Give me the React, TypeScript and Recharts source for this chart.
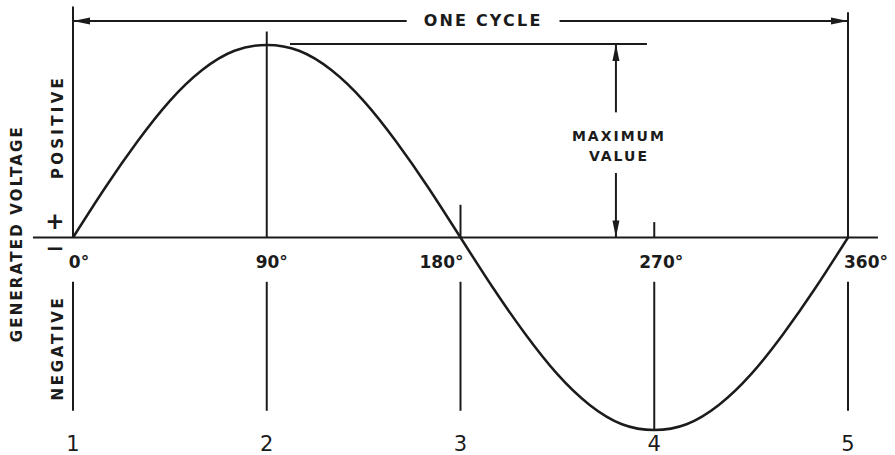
import React from 'react';
import { ComposedChart, Line, XAxis, YAxis, ReferenceLine, ReferenceDot } from 'recharts';

// phase angle in degrees and generated voltage in % of the maximum value
const angles = [0, 15, 30, 45, 60, 75, 90, 105, 120, 135, 150, 165, 180, 195, 210, 225, 240, 255, 270, 285, 300, 315, 330, 345, 360];
const voltage = [0, 26, 50, 71, 87, 97, 100, 97, 87, 71, 50, 26, 0, -26, -50, -71, -87, -97, -100, -97, -87, -71, -50, -26, 0];

const cycleTicks = [0, 90, 180, 270, 360];
const degreeLabels = ['0°', '90°', '180°', '270°', '360°'];
const pointLabels = ['1', '2', '3', '4', '5'];

const data = angles.map((deg, i) => ({ deg, v: voltage[i] }));

const INK = '#1b1b1b';
const FONT = '"DejaVu Sans", sans-serif';

// how far each guide line runs above / below the zero line (in voltage units)
const guideTop = [120, 107, 17, 8, 117];
const guideBottom = [-90, -90, -90, -100, -90];
const degreeDx = [6, 5, -19, 7, 18];

const arrow = (head: 'start' | 'end') => (p: any) => {
  const { x1, y1, x2, y2 } = p;
  const [tx, ty, fx, fy] = head === 'end' ? [x2, y2, x1, y1] : [x1, y1, x2, y2];
  const len = Math.hypot(tx - fx, ty - fy) || 1;
  const ux = (tx - fx) / len;
  const uy = (ty - fy) / len;
  const L = 17;
  const W = 3.5;
  const bx = tx - ux * L;
  const by = ty - uy * L;
  return (
    <g>
      <line x1={x1} y1={y1} x2={x2} y2={y2} stroke={INK} strokeWidth={2} />
      <path d={`M${tx},${ty} L${bx - uy * W},${by + ux * W} L${bx + uy * W},${by - ux * W} Z`} fill={INK} />
    </g>
  );
};

type TxtOpts = { size?: number; weight?: string | number; ls?: number; rotate?: boolean; dx?: number };

const txt = (text: string, o: TxtOpts = {}) => (p: any) => {
  const x = p.cx + (o.dx || 0);
  const y = p.cy;
  return (
    <text
      x={x}
      y={y}
      textAnchor="middle"
      dominantBaseline="central"
      fontFamily={FONT}
      fontSize={o.size || 15}
      fontWeight={o.weight || 'bold'}
      letterSpacing={o.ls || 0}
      fill={INK}
      transform={o.rotate ? `rotate(-90 ${x} ${y})` : undefined}
    >
      {text}
    </text>
  );
};

const seg = (x1: number, y1: number, x2: number, y2: number, key: string, width = 2) => (
  <ReferenceLine
    key={key}
    segment={[{ x: x1, y: y1 }, { x: x2, y: y2 }]}
    stroke={INK}
    strokeWidth={width}
    ifOverflow="visible"
  />
);

const App = () => {
  return (
    <div style={{ position: 'absolute', left: 0, top: 0, width: 895, height: 455, background: '#fff' }}>
      <ComposedChart width={895} height={455} data={data} margin={{ top: 45, right: 47, bottom: 25, left: 73 }}>
        <XAxis type="number" dataKey="deg" domain={[0, 360]} hide />
        <YAxis type="number" domain={[-100, 100]} hide />

        {/* zero line */}
        {seg(-18.6, 0, 373.9, 0, 'axis')}

        {/* guide lines at each quarter cycle */}
        {cycleTicks.map((d, i) => seg(d, guideTop[i], d, 0, `up-${d}`))}
        {cycleTicks.map((d, i) => seg(d, -23, d, guideBottom[i], `dn-${d}`))}

        {/* one cycle dimension */}
        <ReferenceLine segment={[{ x: 0, y: 112.5 }, { x: 155, y: 112.5 }]} ifOverflow="visible" shape={arrow('start')} />
        <ReferenceLine segment={[{ x: 226, y: 112.5 }, { x: 360, y: 112.5 }]} ifOverflow="visible" shape={arrow('end')} />
        <ReferenceDot x={190.5} y={112.5} r={0} ifOverflow="visible" shape={txt('ONE CYCLE', { size: 16, ls: 2.2 })} />

        {/* maximum value dimension */}
        {seg(100.8, 100.5, 266.6, 100.5, 'maxline')}
        <ReferenceLine segment={[{ x: 252.2, y: 65 }, { x: 252.2, y: 100.5 }]} ifOverflow="visible" shape={arrow('end')} />
        <ReferenceLine segment={[{ x: 252.2, y: 33.5 }, { x: 252.2, y: 0 }]} ifOverflow="visible" shape={arrow('end')} />
        <ReferenceDot x={253.6} y={52.7} r={0} ifOverflow="visible" shape={txt('MAXIMUM', { size: 14, ls: 2 })} />
        <ReferenceDot x={253.6} y={42.3} r={0} ifOverflow="visible" shape={txt('VALUE', { size: 14, ls: 2 })} />

        {/* left side labels */}
        <ReferenceDot x={-26} y={2} r={0} ifOverflow="visible" shape={txt('GENERATED VOLTAGE', { size: 15, ls: 2.2, rotate: true })} />
        <ReferenceDot x={-7} y={57.4} r={0} ifOverflow="visible" shape={txt('POSITIVE', { size: 15, ls: 3.3, rotate: true })} />
        <ReferenceDot x={-7} y={-57.4} r={0} ifOverflow="visible" shape={txt('NEGATIVE', { size: 15, ls: 2.7, rotate: true })} />
        <ReferenceDot x={-8.4} y={8.6} r={0} ifOverflow="visible" shape={txt('+', { size: 23 })} />
        <ReferenceDot x={-8.4} y={-5.5} r={0} ifOverflow="visible" shape={txt('−', { size: 23 })} />

        {/* degree and point labels */}
        {cycleTicks.map((d, i) => (
          <ReferenceDot key={`deg-${d}`} x={d} y={-12.7} r={0} ifOverflow="visible" shape={txt(degreeLabels[i], { size: 17, dx: degreeDx[i] })} />
        ))}
        {cycleTicks.map((d, i) => (
          <ReferenceDot key={`pt-${d}`} x={d} y={-107.3} r={0} ifOverflow="visible" shape={txt(pointLabels[i], { size: 21, weight: 'normal' })} />
        ))}

        <Line type="natural" dataKey="v" stroke={INK} strokeWidth={2.5} dot={false} isAnimationActive={false} />
      </ComposedChart>
    </div>
  );
};

export default App;
